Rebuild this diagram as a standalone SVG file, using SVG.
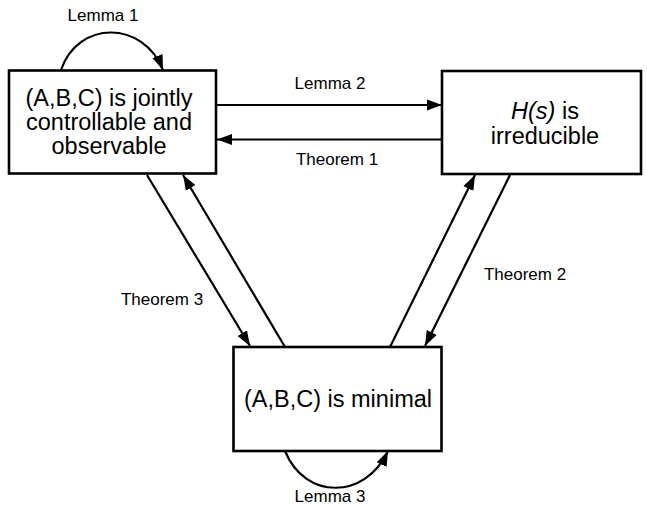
<svg xmlns="http://www.w3.org/2000/svg" width="647" height="505" viewBox="0 0 647 505">
<style>
.box{fill:#fff;stroke:#000;stroke-width:2.6}
.nt{font-family:"Liberation Sans",Arial,sans-serif;font-size:23.5px;fill:#000;text-anchor:middle}
.lbl{font-family:"Liberation Sans",Arial,sans-serif;font-size:17px;fill:#000;text-anchor:middle}
.c{fill:none;stroke:#000;stroke-width:2.2;marker-end:url(#ah)}
</style>
<defs>
<marker id="ah" markerUnits="userSpaceOnUse" markerWidth="16" markerHeight="12" refX="15" refY="6" orient="auto">
<path d="M0,0.5 L15,6 L0,11.5 z" fill="#000"/>
</marker>
</defs>
<g id="connectors">
<path class="c" d="M61,70 C78,20 143,20 163,70"/>
<line class="c" x1="217" y1="105" x2="442" y2="105"/>
<line class="c" x1="442" y1="139.5" x2="217" y2="139.5"/>
<line class="c" x1="147" y1="175" x2="250" y2="346"/>
<line class="c" x1="285" y1="347" x2="183" y2="175"/>
<line class="c" x1="390" y1="347" x2="475" y2="175"/>
<line class="c" x1="510" y1="175" x2="425" y2="346"/>
<path class="c" d="M285,451 C305,500 365,500 388,451"/>
<text class="lbl" x="103" y="21">Lemma 1</text>
<text class="lbl" x="330" y="89">Lemma 2</text>
<text class="lbl" x="337" y="165">Theorem 1</text>
<text class="lbl" x="162" y="305">Theorem 3</text>
<text class="lbl" x="525" y="280">Theorem 2</text>
<text class="lbl" x="330" y="502">Lemma 3</text>
</g>
<g id="node-jointly">
<rect class="box" x="9" y="70.5" width="207" height="103"/>
<text class="nt" x="109" y="106">(A,B,C) is jointly</text>
<text class="nt" x="109" y="130">controllable and</text>
<text class="nt" x="109" y="154">observable</text>
</g>
<g id="node-irreducible">
<rect class="box" x="442" y="71" width="199" height="103"/>
<text class="nt" x="545" y="119"><tspan font-style="italic">H(s)</tspan> is</text>
<text class="nt" x="545" y="144">irreducible</text>
</g>
<g id="node-minimal">
<rect class="box" x="233.5" y="347" width="208" height="104"/>
<text class="nt" x="338" y="407">(A,B,C) is minimal</text>
</g>
</svg>
